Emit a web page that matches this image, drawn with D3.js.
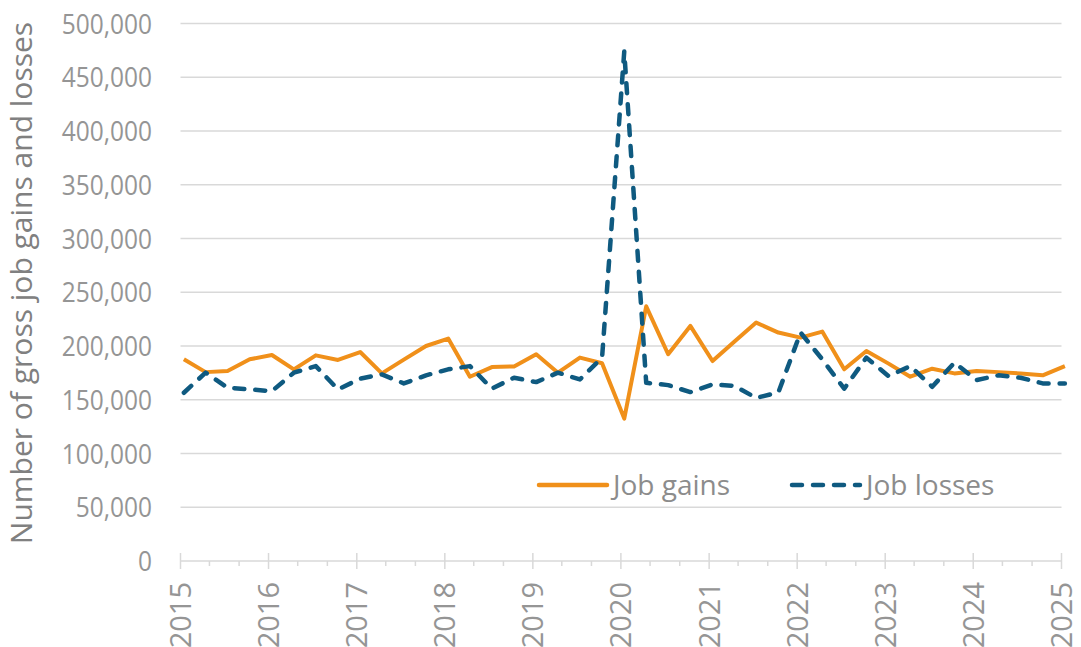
<!DOCTYPE html>
<html>
<head>
<meta charset="utf-8">
<script src="https://cdn.jsdelivr.net/npm/d3@7"></script>
<style>
  body{margin:0;background:#fff;}
  svg text{font-family:"Open Sans",sans-serif;}
</style>
</head>
<body>
<div class="chart"></div>
<script>
// quarterly observations, 2015 Q1 .. 2025 Q1
const quarters = [];
for(let y=2015;y<=2025;y++){
    for(let q=1;q<=4;q++){
        if(y===2025 && q>1) break;
        quarters.push(y+"Q"+q);
    }
}
const jobGains = [187600,175700,176700,187600,191600,178300,191300,187000,194400,174500,
                  187300,200000,206900,171400,180400,181000,192300,175200,189200,183900,
                  132500,236900,192300,218700,186000,204000,221800,212500,207800,213400,
                  178300,195300,183600,171400,178900,174500,176700,175700,174500,172700,
                  181300];
const jobLosses = [156500,175200,161200,159600,158000,175200,181300,159600,169600,173600,
                   165200,172700,178300,181300,160300,170500,166400,175200,168900,189200,
                   474000,165800,163600,157100,164300,162900,151700,156800,212500,187600,
                   160300,189200,172000,181300,162100,184500,168300,172700,170500,165200,
                   165200];
const yTicks = [0,50000,100000,150000,200000,250000,300000,350000,400000,450000,500000];
const yearTicks = [2015,2016,2017,2018,2019,2020,2021,2022,2023,2024,2025];
const seriesNames = ["Job gains","Job losses"];

const width = 1081, height = 647;
const margin = {top:23.5,right:19.5,bottom:86,left:180.5};
const gainColor = "#f0901a", lossColor = "#0f5a80", gridColor = "#d9d9d9", textColor = "#959595";

const toDate = s => new Date(+s.slice(0,4), (+s.slice(5)-1)*3, 15);

const svg = d3.select(".chart").append("svg").attr("width",width).attr("height",height);

const x = d3.scaleTime()
            .domain([new Date(2015,0,1),new Date(2025,0,1)])
            .range([margin.left,width-margin.right]);
const y = d3.scaleLinear()
            .domain([0,500000])
            .range([height-margin.bottom,margin.top]);

// gridlines
svg.append("g").selectAll("line")
    .data(yTicks.slice(1))
    .join("line")
    .attr("x1",margin.left).attr("x2",width-margin.right)
    .attr("y1",d=>y(d)).attr("y2",d=>y(d))
    .attr("stroke",gridColor).attr("stroke-width",1.5);

// y tick labels (slightly tall glyphs in the original)
svg.append("g").selectAll("text")
    .data(yTicks)
    .join("text")
    .attr("transform",d=>`translate(152,${y(d)}) scale(1,1.15)`)
    .attr("dy","0.36em")
    .attr("text-anchor","end")
    .attr("fill",textColor)
    .style("font-size","24.5px")
    .text(d=>d3.format(",")(d));

// y title
svg.append("text")
    .attr("transform",`translate(32,283) rotate(-90)`)
    .attr("text-anchor","middle")
    .attr("fill","#808080")
    .style("font-size","30px")
    .text("Number of gross job gains and losses");

// x axis line and ticks
const axisY = y(0);
svg.append("line")
    .attr("x1",margin.left).attr("x2",width-margin.right)
    .attr("y1",axisY).attr("y2",axisY)
    .attr("stroke",gridColor).attr("stroke-width",1.5);
const minor = [];
yearTicks.slice(0,-1).forEach(yr=>{ minor.push(new Date(yr,4,1)); minor.push(new Date(yr,8,1)); });
svg.append("g").selectAll("line")
    .data(minor)
    .join("line")
    .attr("x1",d=>x(d)).attr("x2",d=>x(d))
    .attr("y1",axisY).attr("y2",axisY+5)
    .attr("stroke",gridColor).attr("stroke-width",1.5);
svg.append("g").selectAll("line")
    .data(yearTicks)
    .join("line")
    .attr("x1",d=>x(new Date(d,0,1))).attr("x2",d=>x(new Date(d,0,1)))
    .attr("y1",axisY-8).attr("y2",axisY+8)
    .attr("stroke",gridColor).attr("stroke-width",1.5);
svg.append("g").selectAll("text")
    .data(yearTicks)
    .join("text")
    .attr("transform",d=>`translate(${x(new Date(d,0,1))},${axisY+21}) rotate(-90)`)
    .attr("text-anchor","end")
    .attr("dy","0.36em")
    .attr("fill",textColor)
    .style("font-size","29px")
    .text(d=>d);

// lines
const line = d3.line().x((d,i)=>x(toDate(quarters[i]))).y(d=>y(d));
svg.append("path")
    .datum(jobGains)
    .attr("d",line)
    .attr("fill","none")
    .attr("stroke",gainColor)
    .attr("stroke-width",4)
    .attr("stroke-linejoin","round");
svg.append("path")
    .datum(jobLosses)
    .attr("d",line)
    .attr("fill","none")
    .attr("stroke",lossColor)
    .attr("stroke-width",4.5)
    .attr("stroke-dasharray","10,11")
    .attr("stroke-linecap","round")
    .attr("stroke-linejoin","round");

// legend
const legend = svg.append("g").attr("transform","translate(0,485)");
const legendX = [537,790];
legend.selectAll("line")
    .data(seriesNames)
    .join("line")
    .attr("x1",(d,i)=>legendX[i]+2).attr("x2",(d,i)=>legendX[i]+70)
    .attr("y1",0).attr("y2",0)
    .attr("stroke",(d,i)=>i===0?gainColor:lossColor)
    .attr("stroke-width",4.5)
    .attr("stroke-linecap","round")
    .attr("stroke-dasharray",(d,i)=>i===0?null:"10,11");
legend.selectAll("text")
    .data(seriesNames)
    .join("text")
    .attr("x",(d,i)=>legendX[i]+76)
    .attr("y",0)
    .attr("dy","0.36em")
    .attr("fill","#8c8c8c")
    .style("font-size","28px")
    .text(d=>d);
</script>
</body>
</html>
